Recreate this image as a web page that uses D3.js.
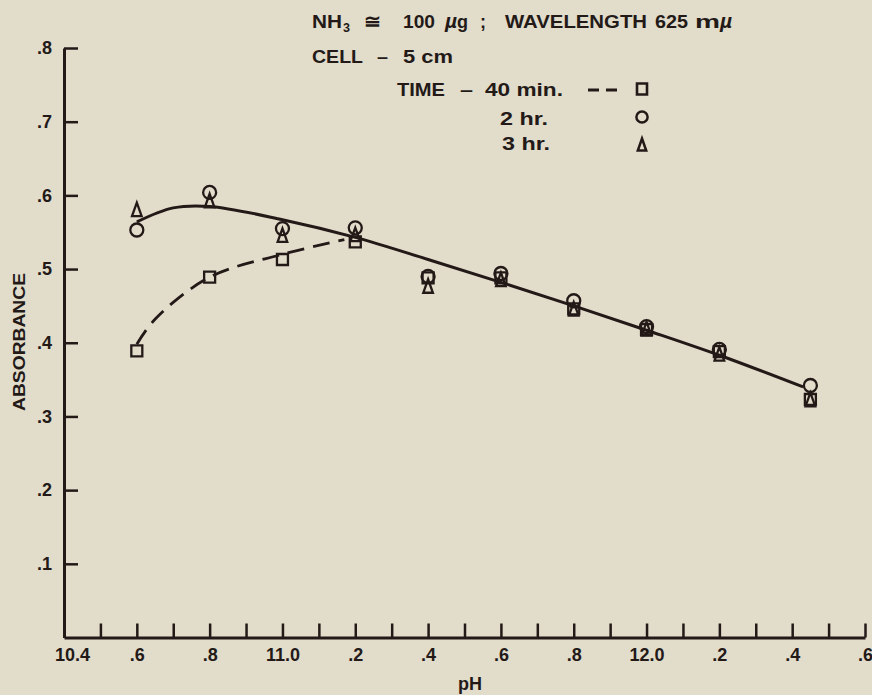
<!DOCTYPE html>
<html><head><meta charset="utf-8">
<script src="https://cdn.jsdelivr.net/npm/d3@7"></script>
<style>
html,body{margin:0;padding:0;background:#e2dccb;}
svg{display:block;}
text{font-family:"Liberation Sans",Arial,sans-serif;fill:#231a18;font-weight:bold;}
</style></head>
<body>
<svg id="chart" width="872" height="695"></svg>
<script>
// ---- data ----
const pH = [10.6, 10.8, 11.0, 11.2, 11.4, 11.6, 11.8, 12.0, 12.2, 12.45];
const min40 = [0.389, 0.489, 0.513, 0.537, 0.488, 0.488, 0.446, 0.418, 0.388, 0.323];
const hr2 = [0.553, 0.604, 0.555, 0.556, 0.490, 0.494, 0.457, 0.422, 0.391, 0.342];
const hr3 = [0.580, 0.592, 0.545, 0.546, 0.476, 0.485, 0.445, 0.418, 0.384, 0.322];
// fitted curves drawn on the chart
const solidX = [10.6, 10.7, 10.8, 11.0, 11.2, 11.4, 11.6, 11.8, 12.0, 12.2, 12.43];
const solidY = [0.564, 0.583, 0.585, 0.567, 0.543, 0.513, 0.482, 0.450, 0.417, 0.383, 0.340];
const dashX = [10.6, 10.65, 10.8, 11.0, 11.17];
const dashY = [0.398, 0.432, 0.489, 0.520, 0.540];
const xTickValues = [10.4,10.5,10.6,10.7,10.8,10.9,11.0,11.1,11.2,11.3,11.4,11.5,11.6,11.7,11.8,11.9,12.0,12.1,12.2,12.3,12.4,12.5,12.6];
const xTickLabels = ["10.4","",".6","",".8","","11.0","",".2","",".4","",".6","",".8","","12.0","",".2","",".4","",".6"];
const yTickValues = [0.1,0.2,0.3,0.4,0.5,0.6,0.7,0.8];
const yTickLabels = [".1",".2",".3",".4",".5",".6",".7",".8"];

const ink = "#231a18";
const svg = d3.select("#chart");
svg.append("rect").attr("width",872).attr("height",695).attr("fill","#e2dccb");

const x = d3.scaleLinear().domain([10.4,12.6]).range([64,865]);
const y = d3.scaleLinear().domain([0,0.8]).range([637.5,48]);

// x axis: ticks pointing up
const xAxis = d3.axisBottom(x).tickValues(xTickValues).tickSize(-14).tickSizeOuter(0)
  .tickFormat((d,i)=>xTickLabels[i]).tickPadding(14);
const gx = svg.append("g").attr("transform","translate(0,637.5)").call(xAxis)
  .attr("font-size",18).attr("font-family",null);
gx.select(".domain").attr("stroke",ink).attr("stroke-width",3);
gx.selectAll(".tick line").attr("stroke",ink).attr("stroke-width",2.5);
gx.selectAll(".tick text").attr("fill",ink)
  .attr("dx",(d,i)=>i===0?8:0).attr("dy","0.55em");

// y axis: ticks pointing right
const yAxis = d3.axisLeft(y).tickValues(yTickValues).tickSize(-14).tickSizeOuter(0)
  .tickFormat((d,i)=>yTickLabels[i]).tickPadding(12);
const gy = svg.append("g").attr("transform","translate(64,0)").call(yAxis)
  .attr("font-size",18).attr("font-family",null);
gy.select(".domain").attr("stroke",ink).attr("stroke-width",3);
gy.selectAll(".tick line").attr("stroke",ink).attr("stroke-width",2.5);
gy.selectAll(".tick text").attr("fill",ink);

// axis titles
svg.append("text").attr("x",470).attr("y",690).attr("text-anchor","middle")
  .attr("font-size",18).text("pH");
svg.append("text").attr("transform","translate(25,342) rotate(-90)").attr("text-anchor","middle")
  .attr("font-size",17).attr("textLength",138).attr("lengthAdjust","spacingAndGlyphs").text("ABSORBANCE");

// curves
const solidLine = d3.line().x((d,i)=>x(solidX[i])).y((d,i)=>y(solidY[i])).curve(d3.curveCatmullRom.alpha(0.5));
svg.append("path").attr("d",solidLine(solidX)).attr("fill","none").attr("stroke",ink).attr("stroke-width",3);
const dashLine = d3.line().x((d,i)=>x(dashX[i])).y((d,i)=>y(dashY[i])).curve(d3.curveCatmullRom.alpha(0.5));
svg.append("path").attr("d",dashLine(dashX)).attr("fill","none").attr("stroke",ink).attr("stroke-width",2.8)
  .attr("stroke-dasharray","17,9");

// markers
const sq = "M-5.5,-5.5H5.5V5.5H-5.5Z";
const tri = "M0,-7.5L4.8,6H-4.8Z";
function drawSquares(vals){
  svg.append("g").selectAll("path").data(vals).join("path")
    .attr("transform",(d,i)=>`translate(${x(pH[i])},${y(d)})`).attr("d",sq)
    .attr("fill","none").attr("stroke",ink).attr("stroke-width",2.3);
}
function drawCircles(vals){
  svg.append("g").selectAll("circle").data(vals).join("circle")
    .attr("cx",(d,i)=>x(pH[i])).attr("cy",d=>y(d)).attr("r",6.5)
    .attr("fill","none").attr("stroke",ink).attr("stroke-width",2.3);
}
function drawTris(vals){
  svg.append("g").selectAll("path").data(vals).join("path")
    .attr("transform",(d,i)=>`translate(${x(pH[i])},${y(d)})`).attr("d",tri)
    .attr("fill","none").attr("stroke",ink).attr("stroke-width",2.3).attr("stroke-linejoin","miter");
}
drawSquares(min40);
drawCircles(hr2);
drawTris(hr3);

// header text (pieces placed as in the original lettering)
const fs = 19;
function txt(s, x0, y0, len, extra){
  const t = svg.append("text").attr("x",x0).attr("y",y0).attr("font-size",fs).text(s);
  if (len) t.attr("textLength",len).attr("lengthAdjust","spacingAndGlyphs");
  if (extra) extra(t);
  return t;
}
txt("NH",312,28,30);
txt("3",343,32,7,t=>t.attr("font-size",13));
txt("≅",364,28,17,t=>t.attr("font-family","DejaVu Sans").attr("font-weight","normal"));
txt("100",403,28,32);
txt("µ",445,28,null,t=>t.attr("font-style","italic").attr("font-size",21));
txt("g",457,28,11);
txt(";",480,28,6);
txt("WAVELENGTH",505,28,142);
txt("625",655,28,33);
txt("m",695,28,25);
txt("µ",720,28,null,t=>t.attr("font-style","italic").attr("font-size",21));

txt("CELL",312,63,51);
txt("–",377,63,11);
txt("5 cm",403,63,50);
txt("TIME",397,96,48);
txt("–",460,96,13);
txt("40 min.",485,96,78);
txt("2 hr.",500,125,48);
txt("3 hr.",502,150,48);

// legend symbols
svg.append("path").attr("d",d3.line()([[588,90],[617,90]])).attr("stroke",ink).attr("stroke-width",3)
  .attr("stroke-dasharray","11,7");
svg.append("path").attr("transform","translate(642,89)").attr("d","M-5,-5.5H5V5.5H-5Z").attr("fill","none").attr("stroke",ink).attr("stroke-width",2.6);
svg.append("circle").attr("cx",642).attr("cy",117).attr("r",5.6).attr("fill","none").attr("stroke",ink).attr("stroke-width",2.5);
svg.append("path").attr("transform","translate(642,145)").attr("d","M0,-6.5L4.2,5.5H-4.2Z").attr("fill","none").attr("stroke",ink).attr("stroke-width",2.5);
</script>
</body></html>
